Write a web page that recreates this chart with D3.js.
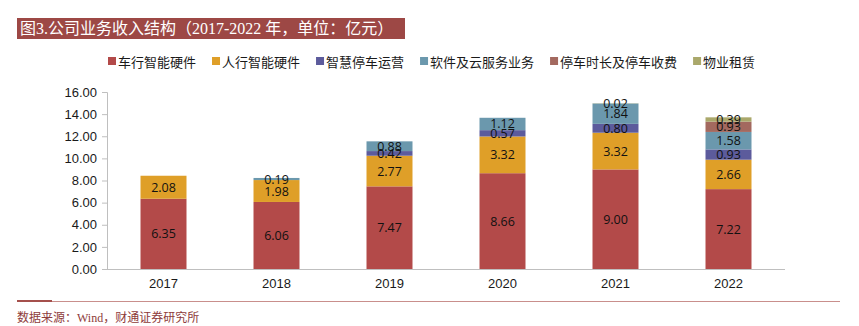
<!DOCTYPE html>
<html>
<head>
<meta charset="utf-8">
<script src="https://cdn.jsdelivr.net/npm/d3@7/dist/d3.min.js"></script>
<style>
  html, body { margin: 0; padding: 0; background: #fff; }
  svg { display: block; }
</style>
</head>
<body>
<svg id="chart" width="859" height="326"></svg>
<script>
// Revenue by business line, 2017-2022 (unit: 100 million CNY)
const years = ["2017", "2018", "2019", "2020", "2021", "2022"];
const seriesNames = ["车行智能硬件", "人行智能硬件", "智慧停车运营", "软件及云服务业务", "停车时长及停车收费", "物业租赁"];
const vehicleHardware   = [6.35, 6.06, 7.47, 8.66, 9.00, 7.22];
const pedestrianHardware = [2.08, 1.98, 2.77, 3.32, 3.32, 2.66];
const parkingOperation  = [0, 0, 0.42, 0.57, 0.80, 0.93];
const softwareCloud     = [0, 0.19, 0.88, 1.12, 1.84, 1.58];
const parkingFees       = [0, 0, 0, 0, 0, 0.93];
const propertyRental    = [0, 0, 0, 0, 0.02, 0.39];
const yTicks = [0, 2, 4, 6, 8, 10, 12, 14, 16];
const colors = ["#b34a49", "#df9f28", "#5c5b9c", "#6b98ad", "#a3695f", "#aaa86b"];

const seriesValues = [vehicleHardware, pedestrianHardware, parkingOperation, softwareCloud, parkingFees, propertyRental];
const rows = years.map((y, i) => {
  const r = { year: y };
  seriesNames.forEach((s, k) => { r[s] = seriesValues[k][i]; });
  return r;
});

const svg = d3.select("#chart");
const latinCjk = "'Liberation Sans', Arial, 'Noto Sans CJK SC', sans-serif";
const serifCjk = "'Liberation Serif', 'Times New Roman', 'Noto Sans CJK SC', serif";

// Title banner
const titleG = svg.append("g");
titleG.append("rect").attr("x", 17).attr("y", 18).attr("width", 388).attr("height", 21).attr("fill", "#9d4845");
titleG.append("text")
  .attr("x", 20).attr("y", 34)
  .attr("fill", "#ffffff")
  .style("font-family", serifCjk)
  .style("font-size", "16px")
  .text("图3.公司业务收入结构（2017-2022 年，单位：亿元）");

// Scales
const x = d3.scaleBand().domain(years).range([107, 785]).paddingInner(0.593).paddingOuter(0.2965);
const y = d3.scaleLinear().domain([0, 16]).range([269, 92]);

const stack = d3.stack().keys(seriesNames);
const stacked = stack(rows);

// Bars
const layers = svg.append("g").selectAll("g")
  .data(stacked)
  .join("g")
  .attr("fill", (d, i) => colors[i]);

layers.selectAll("rect")
  .data(d => d.filter(p => p[1] - p[0] > 0))
  .join("rect")
  .attr("x", d => x(d.data.year))
  .attr("width", x.bandwidth())
  .attr("y", d => y(d[1]))
  .attr("height", d => y(d[0]) - y(d[1]));

// Value labels centred in each segment
const labelG = svg.append("g")
  .style("font-family", "'Open Sans', 'Liberation Sans', sans-serif")
  .style("font-size", "12.5px")
  .attr("fill", "#111");
stacked.forEach(layer => {
  layer.filter(p => p[1] - p[0] > 0).forEach(p => {
    labelG.append("text")
      .attr("x", x(p.data.year) + x.bandwidth() / 2)
      .attr("y", (y(p[0]) + y(p[1])) / 2)
      .attr("text-anchor", "middle")
      .attr("dominant-baseline", "central")
      .text((p[1] - p[0]).toFixed(2));
  });
});

// Y axis
const yAxis = d3.axisLeft(y).tickValues(yTicks).tickFormat(d3.format(".2f")).tickSize(5).tickPadding(5);
const yg = svg.append("g").attr("transform", "translate(107,0)").call(yAxis);
yg.select(".domain").attr("stroke", "#bfbfbf");
yg.selectAll(".tick line").attr("stroke", "#bfbfbf");
yg.selectAll(".tick text").style("font-family", latinCjk).style("font-size", "13px").attr("fill", "#1a1a1a");

// X axis
const xAxis = d3.axisBottom(x).tickSize(0).tickPadding(10);
const xg = svg.append("g").attr("transform", "translate(0,269)").call(xAxis);
xg.select(".domain").attr("stroke", "#bfbfbf").attr("d", "M107,0.5H785");
xg.selectAll(".tick text").style("font-family", latinCjk).style("font-size", "13px").attr("fill", "#1a1a1a");

// Legend
const legend = svg.append("g").style("font-family", "'Noto Sans CJK SC', sans-serif").style("font-size", "13px");
let lx = 108;
seriesNames.forEach((name, i) => {
  legend.append("rect").attr("x", lx).attr("y", 57).attr("width", 8).attr("height", 8).attr("fill", colors[i]);
  const t = legend.append("text").attr("x", lx + 10).attr("y", 61).attr("dominant-baseline", "central")
    .attr("fill", "#1a1a1a").text(name);
  lx += 10 + t.node().getComputedTextLength() + 16;
});

// Footer rule and source
svg.append("line").attr("x1", 17).attr("x2", 840).attr("y1", 301.5).attr("y2", 301.5).attr("stroke", "#c98f8c").attr("stroke-width", 1);
svg.append("line").attr("x1", 17).attr("x2", 52).attr("y1", 301).attr("y2", 301).attr("stroke", "#a5504c").attr("stroke-width", 2);
svg.append("text")
  .attr("x", 17).attr("y", 322)
  .attr("fill", "#8e3b3a")
  .style("font-family", serifCjk)
  .style("font-size", "12px")
  .text("数据来源：Wind，财通证券研究所");
</script>
</body>
</html>
